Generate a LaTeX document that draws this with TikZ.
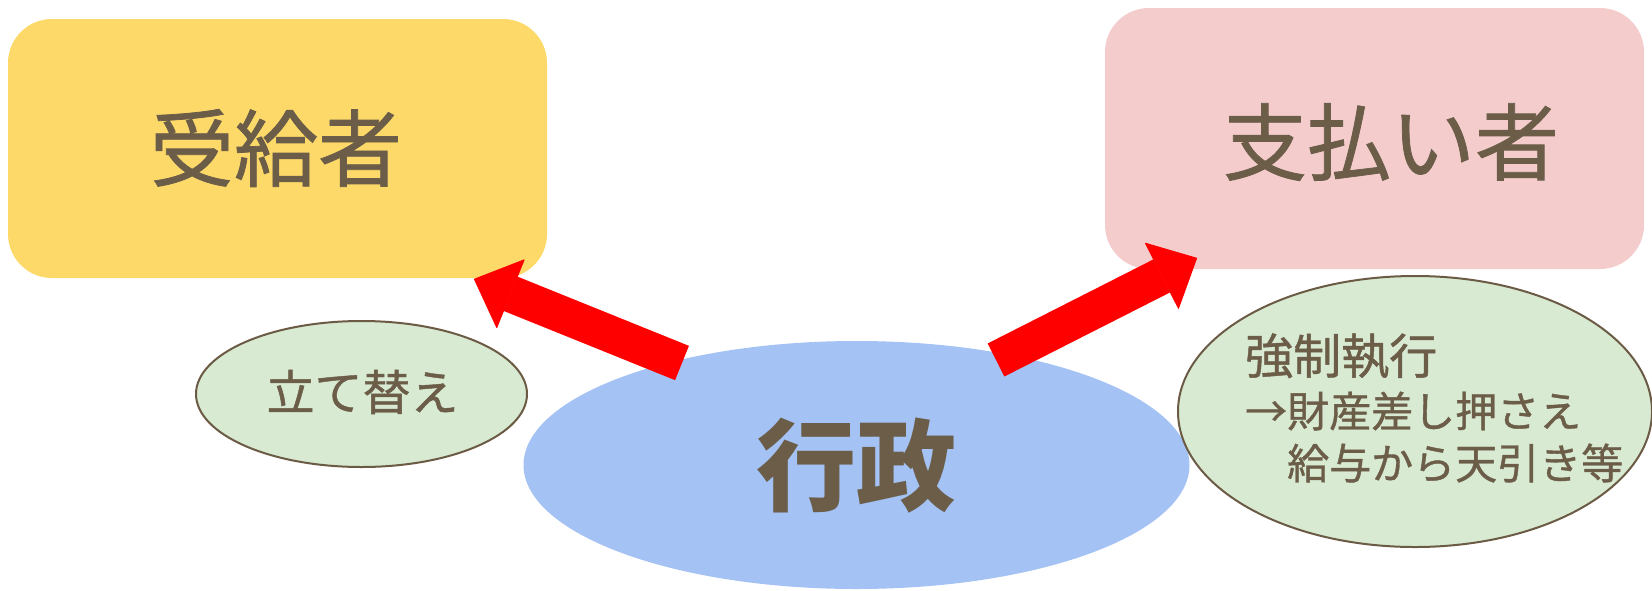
\documentclass[tikz,border=0pt]{standalone}
\usepackage{fontspec}
\newfontfamily\jp[FakeBold=0.9]{Noto Sans CJK JP}
\newfontfamily\jpb{Noto Sans CJK JP}
\usetikzlibrary{arrows.meta,shapes.geometric}
\definecolor{txt}{HTML}{6B5D48}
\definecolor{edge}{HTML}{6B5B45}
\definecolor{ybox}{HTML}{FDD96A}
\definecolor{pbox}{HTML}{F4CCCC}
\definecolor{bell}{HTML}{A4C2F4}
\definecolor{gell}{HTML}{D9EAD3}
\definecolor{arr}{HTML}{FF0000}
\tikzset{
  party/.style={rounded corners=44pt, inner sep=0pt},
  lbl/.style={text=txt, inner sep=0pt},
  note/.style={ellipse, fill=gell, draw=edge, line width=2pt, inner sep=0pt},
  bigarrow/.style={draw=arr, line width=37pt,
    -{Triangle[length=40pt, width=75pt, line width=1pt, round]}},
}
\begin{document}
\begin{tikzpicture}[x=1pt, y=-1pt]
\useasboundingbox (0,0) rectangle (1652,590);
% boxes
\fill[ybox, party] (8,19) rectangle (547,278);
\node[lbl, font=\jp\fontsize{84pt}{90pt}\selectfont] (rcv) at (276,148) {受給者};
\fill[pbox, party] (1105,8) rectangle (1644,269);
\node[lbl, font=\jp\fontsize{84pt}{90pt}\selectfont] (pay) at (1391,142) {支払い者};
% administration
\node[ellipse, fill=bell, minimum width=666pt, minimum height=248pt, inner sep=0pt] (gov) at (856.5,465) {};
\node[lbl, font=\jpb\bfseries\fontsize{100pt}{106pt}\selectfont] (govt) at (856,466) {行政};
% notes
\node[note, minimum width=331pt, minimum height=146pt] (adv) at (361.5,394) {};
\node[lbl, font=\jp\fontsize{48pt}{54pt}\selectfont] (advt) at (362.5,392) {立て替え};
\node[note, minimum width=474pt, minimum height=271pt] (enf) at (1415,411.5) {};
\node[lbl, font=\jp\fontsize{48pt}{54pt}\selectfont, anchor=west] (enf1) at (1245,356) {強制執行};
\node[lbl, font=\jp\fontsize{42pt}{48pt}\selectfont, anchor=west] (enf2) at (1245,411) {→財産差し押さえ};
\node[lbl, font=\jp\fontsize{42pt}{48pt}\selectfont, anchor=west] (enf3) at (1245,463) {　給与から天引き等};
% arrows
\coordinate (la) at (682,363);
\coordinate (lb) at (474,279);
\coordinate (ra) at (996,360);
\coordinate (rb) at (1197,258);
\draw[bigarrow] (la) -- (lb);
\draw[bigarrow] (ra) -- (rb);
\end{tikzpicture}
\end{document}
